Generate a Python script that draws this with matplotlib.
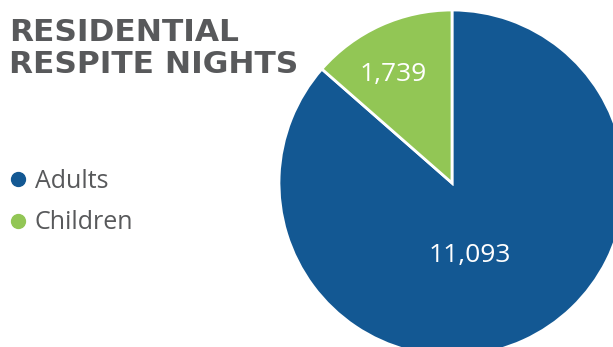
import matplotlib
matplotlib.use("Agg")
import matplotlib.pyplot as plt
from matplotlib.lines import Line2D

# data
categories = ["Adults", "Children"]
nights = [11093, 1739]
value_labels = ["11,093", "1,739"]
colors = ["#135893", "#92c655"]
title = "RESIDENTIAL\nRESPITE NIGHTS"

plt.rcParams["font.family"] = ["Open Sans", "DejaVu Sans"]

W, H = 613, 347
fig = plt.figure(figsize=(W / 100, H / 100), dpi=100)

# pie axes: centre ~(452, 183) px, radius ~173 px
cx, cy, r = 452, 183, 173
ax = fig.add_axes([(cx - r) / W, (H - cy - r) / H, 2 * r / W, 2 * r / H])
wedges, _ = ax.pie(nights, colors=colors, startangle=90, counterclock=False,
                   radius=1, wedgeprops={"edgecolor": "white", "linewidth": 2})
ax.set_xlim(-1, 1)
ax.set_ylim(-1, 1)
ax.set_aspect("auto")
ax.axis("off")

# value labels
ax.text(0.10, -0.42, value_labels[0], color="white", fontsize=19,
        ha="center", va="center")
ax.text(-0.34, 0.63, value_labels[1], color="white", fontsize=19,
        ha="center", va="center")

# title
fig.text(9 / W, 1 - 18 / H, title, fontsize=22.5, fontweight="bold",
         family="DejaVu Sans", color="#58595b", ha="left", va="top",
         linespacing=1.15)

# legend
handles = [Line2D([], [], marker="o", linestyle="", markersize=10,
                  markerfacecolor=c, markeredgecolor=c) for c in colors]
fig.legend(handles, categories, loc="upper left",
           bbox_to_anchor=(-5 / W, 1 - 159 / H), frameon=False,
           fontsize=18, labelcolor="#58595b", handletextpad=0.2,
           labelspacing=0.65, handlelength=1.0, borderaxespad=0)

fig.savefig("out.png", dpi=100)
